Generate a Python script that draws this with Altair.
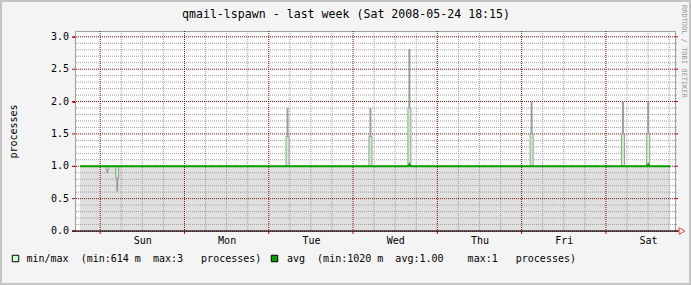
import altair as alt
import pandas as pd
import numpy as np

# ---------------- data ----------------
title_text = "qmail-lspawn - last week (Sat 2008-05-24 18:15)"
y_title = "processes"
watermark = "RRDTOOL / TOBI OETIKER"
day_names = ["Sun", "Mon", "Tue", "Wed", "Thu", "Fri", "Sat"]

# time in hours since Sat 2008-05-17 18:15 (one-week window)
total_hours = 168
first_midnight = 5.75

# min series (grey area 0 -> min)
min_hours = [0, 168]
min_values = [1.0, 1.0]

# avg series (dark green line)
avg_hours = [0, 93.5, 93.8, 94.1, 161.5, 161.8, 162.1, 168]
avg_values = [1.0, 1.0, 1.03, 1.0, 1.0, 1.03, 1.0, 1.0]

# short excursions: outer extreme (grey) and inner value (light green)
spike_hours = [7.8, 10.6, 59.1, 82.7, 93.8, 128.6, 154.6, 161.8]
spike_outer = [0.90, 0.61, 1.90, 1.90, 2.81, 2.00, 2.00, 2.00]
spike_inner = [0.95, 0.82, 1.46, 1.46, 1.90, 1.50, 1.50, 1.50]
spike_base = [1.0] * len(spike_hours)

legend_labels = [
    "min/max  (min:614 m  max:3   processes)",
    "avg  (min:1020 m  avg:1.00    max:1   processes)",
]
legend_colors = ["#ccffcc", "#00a000"]

y_major = [0.0, 0.5, 1.0, 1.5, 2.0, 2.5, 3.0]
y_minor = [round(v, 1) for v in np.arange(0.1, 3.05, 0.1) if round(v * 10) % 5 != 0]
x_major = [first_midnight + 24 * k for k in range(7)]
x_minor = [first_midnight + 6 * k for k in range(28) if k % 4 != 0 and first_midnight + 6 * k < total_hours]
x_labels_at = [first_midnight + 12 + 24 * k for k in range(7)]

# ---------------- layout ----------------
W, H = 600, 200
FONT = "DejaVu Sans Mono"
GRID_MINOR = "#a0a0a0"
GRID_MAJOR = "#8b1010"
NBSP = "\u00a0"

xscale = alt.Scale(domain=[0, total_hours], nice=False, zero=False)
yscale = alt.Scale(domain=[0, 3.09], nice=False, zero=True)


def X(field, **kw):
    return alt.X(field, type="quantitative", scale=xscale, **kw)


def Y(field, **kw):
    return alt.Y(field, type="quantitative", scale=yscale, **kw)


min_df = pd.DataFrame({"h": min_hours, "v": min_values})
avg_df = pd.DataFrame({"h": avg_hours, "v": avg_values})
spk_df = pd.DataFrame({"h": spike_hours, "outer": spike_outer,
                       "inner": spike_inner, "base": spike_base})
ymaj_df = pd.DataFrame({"y": y_major})
ymin_df = pd.DataFrame({"y": y_minor})
xmaj_df = pd.DataFrame({"x": x_major})
xmin_df = pd.DataFrame({"x": x_minor})

day_expr = "[" + ",".join("'%s'" % d for d in day_names) + "]"
label_expr = f"{day_expr}[round((datum.value - {first_midnight + 12}) / 24)]"

x_axis = alt.Axis(values=x_labels_at, labelExpr=label_expr, ticks=False,
                  domain=False, grid=False, labelFont=FONT, labelFontSize=10,
                  labelColor="black", labelPadding=4, labelBaseline="top",
                  labelOverlap=False, title=None)
y_axis = alt.Axis(values=y_major, grid=False, domain=False,
                  tickColor="#cc0000", tickSize=3, labels=False,
                  title=y_title, titleFont=FONT, titleFontSize=10,
                  titleFontWeight="normal", titleColor="black",
                  titleAngle=270, titleX=-62, titleY=H / 2,
                  titleAlign="center", titleBaseline="middle")

area = alt.Chart(min_df).mark_area(color="#e0e0e0", opacity=1).encode(
    x=X("h", axis=x_axis, title=None),
    y=Y("v", axis=y_axis, title=y_title),
)

# y tick labels drawn through the y scale
ylab_df = pd.DataFrame({"y": y_major})
y_labels = alt.Chart(ylab_df).transform_calculate(
    lab="format(datum.y, '.1f')"
).mark_text(font=FONT, fontSize=10, color="black", align="right", baseline="middle").encode(
    y=Y("y", title=y_title), text="lab:N", x=alt.value(-6))

grid_minor_y = alt.Chart(ymin_df).mark_rule(color=GRID_MINOR, strokeDash=[1, 1], strokeWidth=1).encode(y=Y("y", title=y_title))
grid_minor_x = alt.Chart(xmin_df).mark_rule(color=GRID_MINOR, strokeDash=[1, 1], strokeWidth=1).encode(x=X("x", title=None))
grid_major_y = alt.Chart(ymaj_df).mark_rule(color=GRID_MAJOR, strokeDash=[1, 1], strokeWidth=1).encode(y=Y("y", title=y_title))
grid_major_x = alt.Chart(xmaj_df).mark_rule(color=GRID_MAJOR, strokeDash=[1, 1], strokeWidth=1).encode(x=X("x", title=None))

left_ticks_major = alt.Chart(ymaj_df).mark_rule(color="#cc0000").encode(
    y=Y("y", title=y_title), x=alt.value(-3), x2=alt.value(0))
right_ticks_major = alt.Chart(ymaj_df).mark_rule(color="#cc0000").encode(
    y=Y("y", title=y_title), x=alt.value(W), x2=alt.value(W + 3))
right_ticks_minor = alt.Chart(ymin_df).mark_rule(color=GRID_MINOR).encode(
    y=Y("y", title=y_title), x=alt.value(W), x2=alt.value(W + 2))
bottom_ticks = alt.Chart(xmaj_df).mark_rule(color="#cc0000").encode(
    x=X("x", title=None), y=alt.value(H), y2=alt.value(H + 3))

spike_outer_l = alt.Chart(spk_df).mark_rule(color="#9c9c9c", strokeWidth=2).encode(
    x=X("h", title=None), y=Y("inner", title=y_title), y2="outer")
spike_inner_l = alt.Chart(spk_df).mark_bar(width=3, fill="#c4f5c4", stroke="#9c9c9c",
                                           strokeWidth=1).encode(
    x=X("h", title=None), y=Y("base", title=y_title), y2="inner")

avg_line = alt.Chart(avg_df).mark_line(color="#00a000", strokeWidth=2).encode(
    x=X("h", title=None), y=Y("v", title=y_title))

one = pd.DataFrame({"k": [0]})
x_axis_line = alt.Chart(one).mark_rule(color="black", strokeWidth=1).encode(
    x=alt.value(-3), x2=alt.value(W + 4), y=alt.value(H), y2=alt.value(H))
arrow = alt.Chart(one).mark_point(shape="triangle-right", filled=False, color="#ff0000",
                                  size=45, strokeWidth=1).encode(
    x=alt.value(W + 7), y=alt.value(H))

title = alt.Chart(pd.DataFrame({"t": [title_text]})).mark_text(
    font=FONT, fontSize=11.6, color="black", align="center", baseline="alphabetic").encode(
    text="t:N", x=alt.value(271), y=alt.value(-13))

wm = alt.Chart(pd.DataFrame({"t": [watermark]})).mark_text(
    font=FONT, fontSize=7, color="#9a9a9a", align="left", baseline="middle", angle=90).encode(
    text="t:N", x=alt.value(609), y=alt.value(-26))

leg_df = pd.DataFrame({"t": [s.replace(" ", NBSP) for s in legend_labels]})

leg_sq1 = alt.Chart(one).mark_point(shape="square", filled=True, fill=legend_colors[0],
                                    stroke="black", strokeWidth=1, size=42, opacity=1).encode(
    x=alt.value(15.5 - 75), y=alt.value(258.5 - 31))
leg_sq2 = alt.Chart(one).mark_point(shape="square", filled=True, fill=legend_colors[1],
                                    stroke="black", strokeWidth=1, size=42, opacity=1).encode(
    x=alt.value(274.5 - 75), y=alt.value(258.5 - 31))
leg_t1 = alt.Chart(leg_df.iloc[[0]]).mark_text(
    font=FONT, fontSize=10, color="black", align="left", baseline="alphabetic").encode(
    text="t:N", x=alt.value(26.5 - 75), y=alt.value(262 - 31))
leg_t2 = alt.Chart(leg_df.iloc[[1]]).mark_text(
    font=FONT, fontSize=10, color="black", align="left", baseline="alphabetic").encode(
    text="t:N", x=alt.value(287 - 75), y=alt.value(262 - 31))

frame = alt.Chart(one).mark_rect(filled=False, stroke="#c4c4c4", strokeWidth=4).encode(
    x=alt.value(-75), x2=alt.value(616), y=alt.value(-31), y2=alt.value(254))

chart = alt.layer(
    area, grid_minor_y, grid_minor_x, grid_major_y, grid_major_x,
    left_ticks_major, right_ticks_minor, right_ticks_major, bottom_ticks,
    spike_outer_l, spike_inner_l, avg_line, x_axis_line, arrow, y_labels,
    title, wm, leg_sq1, leg_sq2, leg_t1, leg_t2, frame,
).properties(
    width=W, height=H,
    autosize=alt.AutoSizeParams(type="none"),
    padding={"left": 75, "top": 31, "right": 16, "bottom": 54},
).configure(
    background="#f4f4f4",
).configure_view(
    fill="white", stroke="#a0a0a0", strokeWidth=1,
)

chart.save("out.html", embed_options={"renderer": "svg", "actions": False})
